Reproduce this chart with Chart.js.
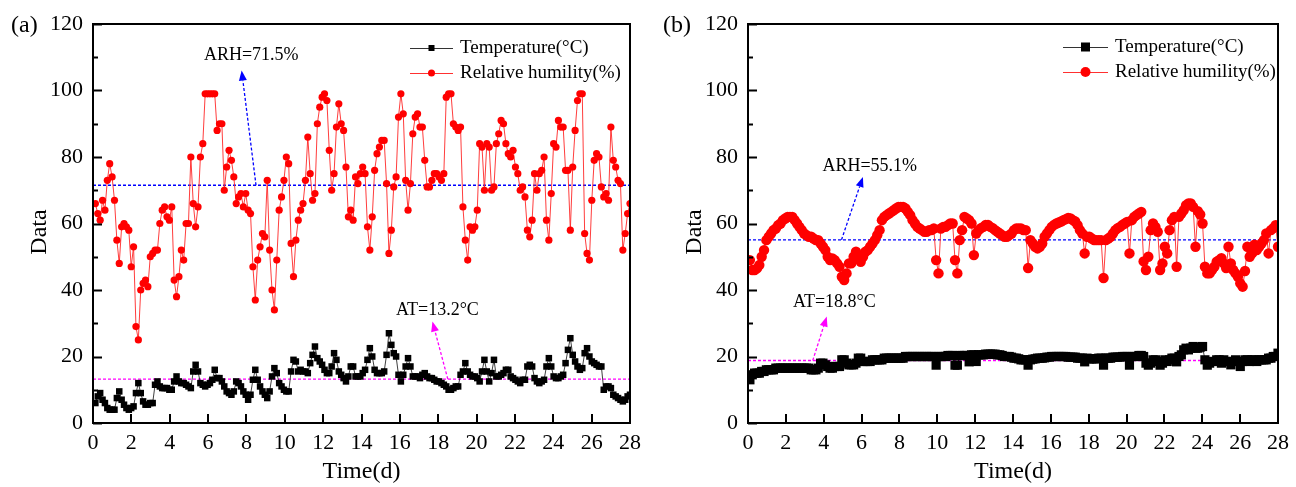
<!DOCTYPE html>
<html>
<head>
<meta charset="utf-8">
<script src="https://cdn.jsdelivr.net/npm/chart.js@4.4.1/dist/chart.umd.min.js"></script>
<style>
  html, body { margin: 0; padding: 0; background: #fff; }
  #wrap { position: relative; width: 1296px; height: 487px; }
  .panel { position: absolute; top: 0; width: 648px; height: 487px; }
</style>
</head>
<body>
<div id="wrap">
  <div class="panel" style="left:0"><canvas id="chartA" width="648" height="487"></canvas></div>
  <div class="panel" style="left:648px"><canvas id="chartB" width="648" height="487"></canvas></div>
</div>
<script>
// ---- data: site (a), 3-hourly readings over 28 days ----
const rhA = [
  66,63,61,67,64,73,78,74,67,55,48,59,60,59,58,47,53,29,25,40,42,43,41,50,51,52,52,60,64,65,
  62,61,65,43,38,44,52,49,60,60,80,66,59,65,80,84,99,99,99,99,99,88,90,90,70,
  77,82,79,74,66,68,69,65,69,64,63,47,37,49,53,57,56,73,52,40,34,49,64,68,73,80,78,54,44,55,
  61,64,66,73,86,75,67,69,90,95,98,99,97,82,70,75,89,96,90,88,77,62,64,61,74,72,75,
  77,75,59,52,62,76,81,83,85,85,72,51,58,71,74,92,99,93,73,64,72,87,92,93,89,89,79,71,71,73,
  75,75,74,73,75,98,99,99,90,89,88,89,65,55,49,59,58,59,64,84,83,70,84,83,70,71,
  84,87,91,90,84,81,80,82,77,75,70,71,68,58,56,61,75,70,75,76,80,61,55,69,84,83,91,89,89,76,
  76,58,77,88,97,99,99,57,51,49,67,79,81,80,71,68,69,67,89,79,77,73,72,52,57,63,66
];
const tempA = [
  6,8,9,7,6,4.5,4,4,4,7.5,9.5,7,5.5,4.5,4,4.5,5,9,12,9,6.5,5.5,5.5,6,6,11.5,12.5,11,10.5,10.5,
  10.5,10,10,12.5,14,12.5,12,12,11.5,11,10.5,15.5,17.5,15.5,12,11.5,11,11.5,12,13,16,13.5,13.5,12.5,11,
  9.5,9,8.5,9.5,12.5,12,11,9.5,8.5,7,8.5,13,16,13,11,9.5,8.5,7.5,9.5,14,16.5,15,12,11,10,9.5,9.5,15.5,19,18.5,
  15.5,16,15.5,15.5,15,18,20.5,23,19.5,18.5,17.5,16,15,15,17,21,19,15.5,14.5,13.5,12.5,14,17,17,14,14,14,
  15,16,19,22.5,20,16,15,15,15,15.5,20.5,27,23.5,21,20,14.5,12.5,14.5,17,19.5,17,14,14,14,13.5,14.5,15,14,13.5,13.5,
  13,12.5,12.5,12,11.5,11,10,10,10.5,11,11,14.5,15.5,18,15.5,14.5,14,14,13.5,12.5,15.5,19,15.5,12.5,15,19,
  14,14,14.5,15,16,16,14,13.5,13,12.5,12,13,13,17,17.5,17,13.5,12.5,12,12.5,13,17,19.5,17,14,13.5,13.5,14,14.5,18,
  22,25.5,20.5,18.5,17,16,16.5,21,22.5,20,18.5,18,17.5,17,17,10,11,11,10.5,8.5,8,7.5,7,6.5,7,8,8.5
];
// ---- data: site (b), 3-hourly readings over 28 days (one row per day) ----
const rhB = [
  49,46,46,46.5,47.5,50,52,55,
  56,57,58,58.5,59.5,60,61,61.5,
  62,62,62,61,60,59,58,57,
  56.5,56,56,55.5,55,55,54,53,
  52,50,49,49.5,49,48,47,44,
  43,45,48,48,50,51.5,50,48.5,
  50,51.5,52,53,54,55,56.5,58,
  61,62,62.5,63,63.5,64,64.5,65,
  65,65,64.5,63.5,62.5,61,60,59,
  58.5,58,57.5,57.5,58,58,58.5,49,
  45,58.5,59,59,59.5,60,60,49,
  45,55,58,62,61.5,61,60,50.5,
  57,58,58.6,59,59.6,59.6,59,58.6,
  58,57.5,57,56.5,56,56,56.5,57,
  58,58.5,58.5,58.5,58,58,46.6,55,
  54,53,52.5,53,54,56,57,58,
  59,59.6,60,60.3,60.6,61,61.3,61.7,
  61.5,61,60.6,59.5,58,57,51,56,
  56,55.5,55,55,55,55,43.6,55,
  55.5,56,57,58,58.6,59,59.6,60,
  60.5,51,61,62,62.5,63,63.5,48.6,
  46,50,58,60,59,57.5,46,48,
  53,51,58,61,62,47,62,63,
  64,65.5,66,66,65,53,63.7,62.7,
  60,47,45,45,46,47,48.5,49,
  49.6,48,46.6,53,48,46,45,44,
  42,41,45.7,53,50,51,53.6,52,
  53,54,55,57,51,58,58.6,59.5,
  53
];
const tempB = [
  13,14.5,15,15,15,15.5,15.5,16,
  16,16,16,16.5,16.5,16.5,16.5,16.5,
  16.5,16.5,16.5,16.5,16.5,16.5,16.5,16.5,
  16.5,16.5,16,16,16,16.5,18,18,
  17.5,17,16.5,16.5,17,17,17,19,
  19,18,17.5,17.5,17.5,18,19.5,19.5,
  18.5,18.5,18.5,18.5,19,19,19,19,
  19,19.5,19.5,19.5,19.5,19.5,19.5,19.5,
  19.5,19.5,20,20,20,20,20,20,
  20,20,20,20,20,20,20,17.4,
  20,20,20,20,20.3,20.3,20.3,17.4,
  17.4,20.3,20.3,20.3,20.3,18.4,20.5,20.5,
  18.5,20.5,20.5,20.5,20.7,20.7,20.7,20.7,
  20.7,20.5,20.5,20.3,20,20,20,19.8,
  19.5,19.5,19.3,19,19,19,17.4,19,
  19.2,19.3,19.5,19.5,19.5,19.6,19.8,19.8,
  20,20,20,20,20,20,20,19.8,
  19.8,19.8,19.8,19.5,19.5,19.5,18.4,19.5,
  19.3,19.3,19.3,19.3,19.5,19.5,17.4,19.5,
  19.5,19.5,19.8,19.8,19.8,19.8,20,20,
  20,17.4,20,20,20,20.3,20.3,20,
  18,17.4,18,19,19,18.5,17.4,18,
  19,18.5,19,19.5,19.5,18.4,20,20.5,
  22,22.5,22,22.5,23,22.5,22.5,22.8,
  23,19,17.4,18,18.5,18.5,19,19,
  18,19,18.5,18.5,17.5,18.5,19,18.5,
  17,18.5,19,19,18.5,19,19,18.5,
  19,19,19,19,19.5,19.5,20,20,
  21
];
// averages shown as dashed reference lines
const avgRH = { a: 71.5, b: 55.1 };
const avgT = { a: 13.2, b: 18.8 };

const DAYS = 28;
const FONT = "'Liberation Serif', 'Times New Roman', serif";
Chart.defaults.font.family = FONT;
Chart.defaults.color = '#000';

// sampling times in days for a series of n evenly spaced readings
function sampleTimes(n, first, last) {
  const step = (last - first) / (n - 1);
  return Array.from({ length: n }, (_, i) => first + i * step);
}
function toXY(values, first, last) {
  const t = sampleTimes(values.length, first, last);
  return values.map((v, i) => ({ x: t[i], y: v }));
}
function flat(v) { return [{ x: 0, y: v }, { x: DAYS, y: v }]; }

// frame, inward ticks, axis titles, panel tag, legend and arrows
const decor = {
  id: 'decor',
  afterDraw(chart, args, o) {
    const { ctx, chartArea: a, scales: { x, y } } = chart;
    ctx.save();
    ctx.strokeStyle = '#000';
    ctx.lineWidth = 2;
    ctx.strokeRect(a.left, a.top, a.right - a.left, a.bottom - a.top);
    ctx.beginPath();
    for (let v = 0; v <= 120; v += 10) {
      const py = Math.round(y.getPixelForValue(v)) + 0.5;
      ctx.moveTo(a.left, py);
      ctx.lineTo(a.left + (v % 20 === 0 ? 9 : 5), py);
    }
    x.ticks.forEach(t => {
      const px = Math.round(x.getPixelForValue(t.value));
      ctx.moveTo(px, a.bottom);
      ctx.lineTo(px, a.bottom - 9);
    });
    ctx.stroke();

    ctx.fillStyle = '#000';
    ctx.font = '24px ' + FONT;
    ctx.textAlign = 'center';
    ctx.textBaseline = 'middle';
    ctx.fillText('Time(d)', (a.left + a.right) / 2, 472);
    ctx.save();
    ctx.translate(o.yTitleX, 232);
    ctx.rotate(-Math.PI / 2);
    ctx.fillText('Data', 0, 0);
    ctx.restore();
    ctx.textAlign = 'left';
    ctx.fillText(o.tag, o.tagX, 26);

    // arrows from the average lines to their labels
    o.notes.forEach(n => {
      const x0 = x.getPixelForValue(n.from[0]), y0 = y.getPixelForValue(n.from[1]);
      const x1 = x.getPixelForValue(n.to[0]), y1 = y.getPixelForValue(n.to[1]);
      const ang = Math.atan2(y1 - y0, x1 - x0);
      const hl = 10, hw = 4;
      const bx = x1 - hl * Math.cos(ang), by = y1 - hl * Math.sin(ang);
      ctx.strokeStyle = n.color;
      ctx.fillStyle = n.color;
      ctx.lineWidth = 1.3;
      ctx.setLineDash([3, 2]);
      ctx.beginPath();
      ctx.moveTo(x0, y0);
      ctx.lineTo(bx, by);
      ctx.stroke();
      ctx.setLineDash([]);
      ctx.beginPath();
      ctx.moveTo(x1, y1);
      ctx.lineTo(bx + hw * Math.sin(ang), by - hw * Math.cos(ang));
      ctx.lineTo(bx - hw * Math.sin(ang), by + hw * Math.cos(ang));
      ctx.closePath();
      ctx.fill();
      ctx.fillStyle = '#000';
      ctx.font = '18px ' + FONT;
      ctx.textAlign = 'center';
      ctx.fillText(n.text, x.getPixelForValue(n.label[0]), y.getPixelForValue(n.label[1]));
    });

    // legend
    const L = o.legend;
    ctx.font = '19px ' + FONT;
    ctx.textAlign = 'left';
    L.rows.forEach((r, i) => {
      const yy = L.y + i * L.gap;
      ctx.strokeStyle = r.line;
      ctx.lineWidth = 1;
      ctx.beginPath();
      ctx.moveTo(L.x, yy + 0.5);
      ctx.lineTo(L.x + L.w, yy + 0.5);
      ctx.stroke();
      ctx.fillStyle = r.fill;
      const cx = L.x + L.w / 2;
      if (r.shape === 'rect') {
        ctx.fillRect(cx - r.size / 2, yy - r.size / 2, r.size, r.size);
      } else {
        ctx.beginPath();
        ctx.arc(cx, yy, r.size / 2, 0, Math.PI * 2);
        ctx.fill();
      }
      ctx.fillStyle = '#000';
      ctx.fillText(r.label, L.x + L.w + 7, yy);
    });
    ctx.restore();
  }
};

function makeChart(id, p) {
  return new Chart(document.getElementById(id), {
    type: 'line',
    data: {
      datasets: [
        {
          data: toXY(p.temp, p.first, DAYS),
          borderColor: 'rgba(30,30,30,0.85)', borderWidth: 1,
          pointStyle: 'rect', pointRadius: p.rectR, pointBackgroundColor: '#000', pointBorderWidth: 0,
          order: 0
        },
        {
          data: toXY(p.rh, p.first, DAYS),
          borderColor: 'rgba(255,40,40,0.9)', borderWidth: 1,
          pointStyle: 'circle', pointRadius: p.dotR, pointBackgroundColor: '#ff0000', pointBorderWidth: 0,
          order: 1
        },
        {
          data: flat(p.avgRH), borderColor: '#0000ff', borderWidth: 1.3, borderDash: [3, 2],
          pointRadius: 0, order: 5
        },
        {
          data: flat(p.avgT), borderColor: '#ff00ff', borderWidth: 1.3, borderDash: [3, 2],
          pointRadius: 0, order: 5
        }
      ]
    },
    options: {
      responsive: false,
      animation: false,
      events: [],
      layout: { padding: { top: 24, right: p.padRight, left: 0, bottom: 0 } },
      scales: {
        x: {
          type: 'linear', min: 0, max: DAYS,
          grid: { display: false, drawTicks: false }, border: { display: false },
          ticks: { stepSize: 2, padding: 7, font: { size: 22 }, maxRotation: 0 },
          afterFit: s => { s.height = 64; }
        },
        y: {
          min: 0, max: 120,
          grid: { display: false, drawTicks: false }, border: { display: false },
          ticks: { stepSize: 20, padding: 10, font: { size: 22 } },
          afterFit: s => { s.width = p.yWidth; }
        }
      },
      plugins: {
        legend: { display: false },
        tooltip: { enabled: false },
        decor: {
          tag: p.tag, tagX: p.tagX, yTitleX: p.yTitleX,
          notes: p.notes, legend: p.legend
        }
      }
    },
    plugins: [decor]
  });
}

makeChart('chartA', {
  rh: rhA, temp: tempA, first: 28 / 225, avgRH: avgRH.a, avgT: avgT.a,
  rectR: 4.6, dotR: 3.6, padRight: 15, yWidth: 93, tag: '(a)', tagX: 11, yTitleX: 40,
  notes: [
    { from: [8.5, 71.5], to: [7.75, 106], label: [8.25, 110.7], color: '#0000ff', text: 'ARH=71.5%' },
    { from: [18.5, 13.2], to: [17.7, 30.5], label: [17.96, 33.8], color: '#ff00ff', text: 'AT=13.2\u00B0C' }
  ],
  legend: {
    x: 410, y: 48, w: 43, gap: 25,
    rows: [
      { label: 'Temperature(\u00B0C)', line: '#333', fill: '#000', shape: 'rect', size: 6 },
      { label: 'Relative humility(%)', line: '#ff3030', fill: '#ff0000', shape: 'circle', size: 7 }
    ]
  }
});

makeChart('chartB', {
  rh: rhB, temp: tempB, first: 0.1, avgRH: avgRH.b, avgT: avgT.b,
  rectR: 6.5, dotR: 5.2, padRight: 8, yWidth: 100, tag: '(b)', tagX: 15, yTitleX: 47,
  notes: [
    { from: [4.94, 55.1], to: [6.07, 74], label: [6.43, 77.1], color: '#0000ff', text: 'ARH=55.1%' },
    { from: [3.42, 18.8], to: [4.16, 32], label: [4.56, 36.2], color: '#ff00ff', text: 'AT=18.8\u00B0C' }
  ],
  legend: {
    x: 415, y: 47, w: 45, gap: 25,
    rows: [
      { label: 'Temperature(\u00B0C)', line: '#333', fill: '#000', shape: 'rect', size: 9 },
      { label: 'Relative humility(%)', line: '#ff3030', fill: '#ff0000', shape: 'circle', size: 10 }
    ]
  }
});
</script>
</body>
</html>
